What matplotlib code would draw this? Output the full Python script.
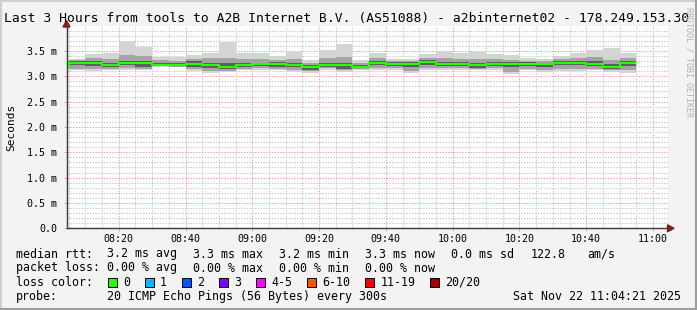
import matplotlib
matplotlib.use('Agg')
import matplotlib.pyplot as plt
from matplotlib.patches import Rectangle, Polygon
from matplotlib.lines import Line2D

W, H = 697, 310
MONO = 'DejaVu Sans Mono'

# 5 minute bins, minutes after 08:00 (the first bin is only partly visible)
bin_start = [0, 5, 10, 15, 20, 25, 30, 35, 40, 45, 50, 55, 60, 65, 70, 75, 80, 85,
             90, 95, 100, 105, 110, 115, 120, 125, 130, 135, 140, 145, 150, 155,
             160, 165, 170]
bin_end = 175

# rtt in ms
rtt_median = [3.20, 3.26, 3.26, 3.23, 3.27, 3.27, 3.23, 3.22, 3.25, 3.23, 3.18, 3.23,
              3.235, 3.235, 3.23, 3.18, 3.23, 3.23, 3.19, 3.27, 3.25, 3.25, 3.28, 3.25,
              3.25, 3.215, 3.235, 3.235, 3.24, 3.235, 3.27, 3.27, 3.25, 3.19, 3.27]
rtt_max = [3.32, 3.35, 3.44, 3.46, 3.70, 3.58, 3.39, 3.38, 3.42, 3.46, 3.68, 3.46,
           3.46, 3.40, 3.48, 3.32, 3.52, 3.64, 3.33, 3.46, 3.35, 3.35, 3.44, 3.50,
           3.46, 3.48, 3.44, 3.42, 3.37, 3.35, 3.40, 3.45, 3.52, 3.55, 3.46]
rtt_min = [3.15, 3.12, 3.11, 3.12, 3.13, 3.12, 3.19, 3.18, 3.11, 3.07, 3.08, 3.12,
           3.13, 3.12, 3.09, 3.07, 3.13, 3.09, 3.13, 3.12, 3.13, 3.07, 3.13, 3.13,
           3.13, 3.12, 3.13, 3.04, 3.12, 3.09, 3.11, 3.11, 3.12, 3.09, 3.07]
rtt_hi2 = [3.28, 3.32, 3.36, 3.35, 3.42, 3.40, 3.32, 3.31, 3.35, 3.36, 3.36, 3.34,
           3.34, 3.32, 3.35, 3.26, 3.36, 3.38, 3.26, 3.36, 3.31, 3.31, 3.37, 3.36,
           3.35, 3.34, 3.34, 3.33, 3.31, 3.30, 3.35, 3.36, 3.38, 3.33, 3.36]
rtt_lo2 = [3.16, 3.15, 3.14, 3.14, 3.16, 3.15, 3.20, 3.19, 3.14, 3.11, 3.11, 3.15,
           3.16, 3.15, 3.13, 3.10, 3.16, 3.12, 3.15, 3.16, 3.17, 3.11, 3.17, 3.17,
           3.17, 3.15, 3.16, 3.09, 3.15, 3.13, 3.15, 3.15, 3.15, 3.12, 3.12]
rtt_hi3 = [3.23, 3.30, 3.30, 3.27, 3.31, 3.31, 3.26, 3.26, 3.30, 3.27, 3.26, 3.27,
           3.27, 3.28, 3.27, 3.22, 3.27, 3.27, 3.23, 3.31, 3.29, 3.28, 3.32, 3.29,
           3.29, 3.26, 3.28, 3.28, 3.28, 3.27, 3.31, 3.31, 3.30, 3.25, 3.31]
rtt_lo3 = [3.18, 3.22, 3.21, 3.18, 3.22, 3.19, 3.21, 3.20, 3.19, 3.17, 3.14, 3.19,
           3.20, 3.19, 3.18, 3.13, 3.19, 3.15, 3.16, 3.22, 3.21, 3.19, 3.23, 3.21,
           3.21, 3.17, 3.20, 3.18, 3.20, 3.19, 3.22, 3.23, 3.20, 3.14, 3.21]

x_ticks = [20, 40, 60, 80, 100, 120, 140, 160, 180]
x_labels = ["08:20", "08:40", "09:00", "09:20", "09:40", "10:00", "10:20", "10:40", "11:00"]
y_ticks = [0.0, 0.5, 1.0, 1.5, 2.0, 2.5, 3.0, 3.5]
y_labels = ["0.0", "0.5 m", "1.0 m", "1.5 m", "2.0 m", "2.5 m", "3.0 m", "3.5 m"]

loss_labels = ["0", "1", "2", "3", "4-5", "6-10", "11-19", "20/20"]
loss_colors = ["#26ff00", "#00b8ff", "#0059ff", "#7e00ff", "#ff00ff", "#ff5500",
               "#ff0000", "#a10000"]

title = "Last 3 Hours from tools to A2B Internet B.V. (AS51088) - a2binternet02 - 178.249.153.30"
rtt_row = [("median rtt:", 16), ("3.2 ms avg", 107), ("3.3 ms max", 193),
           ("3.2 ms min", 279), ("3.3 ms now", 365), ("0.0 ms sd", 451),
           ("122.8", 531), ("am/s", 587)]
loss_row = [("packet loss:", 16), ("0.00 % avg", 107), ("0.00 % max", 193),
            ("0.00 % min", 279), ("0.00 % now", 365)]
probe_text = "20 ICMP Echo Pings (56 Bytes) every 300s"
stamp_text = "Sat Nov 22 11:04:21 2025"


def fx(x):
    return x / W


def fy(y):
    return 1 - y / H


fig = plt.figure(figsize=(W / 100, H / 100), dpi=100, facecolor='#f3f3f3')

# plot area in pixels
left, right, top, bottom = 66.5, 667.5, 25.6, 228.3
ax = fig.add_axes([fx(left), fy(bottom), (right - left) / W, (bottom - top) / H])
ax.set_facecolor('white')
ax.set_xlim(4.35, 184.35)
ax.set_ylim(0, 4.0)

# grid
for m in range(5, 185, 5):
    c = '#f0a0a0' if m % 20 == 0 else '#c8c8c8'
    ax.axvline(m, color=c, lw=0.72, ls=(0, (1.4, 1.4)), zorder=0)
for k in range(1, 40):
    c = '#f0a0a0' if k % 5 == 0 else '#c8c8c8'
    ax.axhline(k / 10, color=c, lw=0.72, ls=(0, (1.4, 1.4)), zorder=0)

# smoke bands + median
edges = bin_start + [bin_end]
ax.stairs(rtt_max, edges, baseline=rtt_min, fill=True, color='#d4d4d4', zorder=2)
ax.stairs(rtt_hi2, edges, baseline=rtt_lo2, fill=True, color='#a4a4a4', zorder=3)
ax.stairs(rtt_hi3, edges, baseline=rtt_lo3, fill=True, color='#5e5e5e', zorder=4)
ax.stairs(rtt_median, edges, baseline=None, color=loss_colors[0], lw=1.5, zorder=5)

for s in ['top', 'right']:
    ax.spines[s].set_visible(False)
for s in ['left', 'bottom']:
    ax.spines[s].set_color('#404040')
    ax.spines[s].set_linewidth(0.9)

ax.set_xticks(x_ticks)
ax.set_xticklabels(x_labels, family=MONO, fontsize=7.2)
ax.set_yticks(y_ticks)
ax.set_yticklabels(y_labels, family=MONO, fontsize=7.2)
ax.tick_params(axis='both', length=2.5, width=0.7, color='#f0a0a0', pad=4)
ax.tick_params(axis='x', pad=1.5)

# axis arrows
fig.add_artist(Line2D([fx(left), fx(left)], [fy(bottom), fy(24)], color='#404040', lw=0.9))
fig.add_artist(Line2D([fx(left), fx(670)], [fy(bottom), fy(bottom)], color='#404040', lw=0.9))
fig.add_artist(Polygon([(fx(left), fy(20.5)), (fx(left - 3.5), fy(27)), (fx(left + 3.5), fy(27))],
                       closed=True, color='#8b1a1a', transform=fig.transFigure))
fig.add_artist(Polygon([(fx(674), fy(bottom)), (fx(667.5), fy(bottom - 3.5)), (fx(667.5), fy(bottom + 3.5))],
                       closed=True, color='#8b1a1a', transform=fig.transFigure))

# title and labels
fig.text(fx(347), fy(18.5), title, ha='center', va='center', family=MONO, fontsize=9.4)
fig.text(fx(11), fy(127), "Seconds", rotation=90, ha='center', va='center', family=MONO, fontsize=8)
fig.text(fx(689.5), fy(7), "RRDTOOL / TOBI OETIKER", rotation=270, ha='center', va='top',
         family=MONO, fontsize=6, color='#b0b0b0')

fs = 8.4
for txt, x in rtt_row:
    fig.text(fx(x), fy(254), txt, ha='left', va='center', family=MONO, fontsize=fs)
for txt, x in loss_row:
    fig.text(fx(x), fy(268), txt, ha='left', va='center', family=MONO, fontsize=fs)
fig.text(fx(16), fy(282), "loss color:", ha='left', va='center', family=MONO, fontsize=fs)
sx = 108
for lab, col in zip(loss_labels, loss_colors):
    fig.add_artist(Rectangle((fx(sx), fy(286.5)), 8.5 / W, 8.5 / H, transform=fig.transFigure,
                             facecolor=col, edgecolor='black', lw=0.7))
    fig.text(fx(sx + 15), fy(282), lab, ha='left', va='center', family=MONO, fontsize=fs)
    sx = sx + 15 + len(lab) * 7.02 + 15
fig.text(fx(16), fy(296.5), "probe:", ha='left', va='center', family=MONO, fontsize=fs)
fig.text(fx(107), fy(296.5), probe_text, ha='left', va='center', family=MONO, fontsize=fs)
fig.text(fx(681), fy(296.5), stamp_text, ha='right', va='center', family=MONO, fontsize=fs)

# 3d frame of the canvas
fig.add_artist(Line2D([0, 1], [fy(1), fy(1)], color='#cfcfcf', lw=1.5))
fig.add_artist(Line2D([fx(1), fx(1)], [0, 1], color='#cfcfcf', lw=1.5))
fig.add_artist(Line2D([0, 1], [fy(308.5), fy(308.5)], color='#9e9e9e', lw=2.2))
fig.add_artist(Line2D([fx(695.5), fx(695.5)], [0, 1], color='#9e9e9e', lw=2.2))

fig.savefig('out.png', dpi=100, facecolor=fig.get_facecolor())
